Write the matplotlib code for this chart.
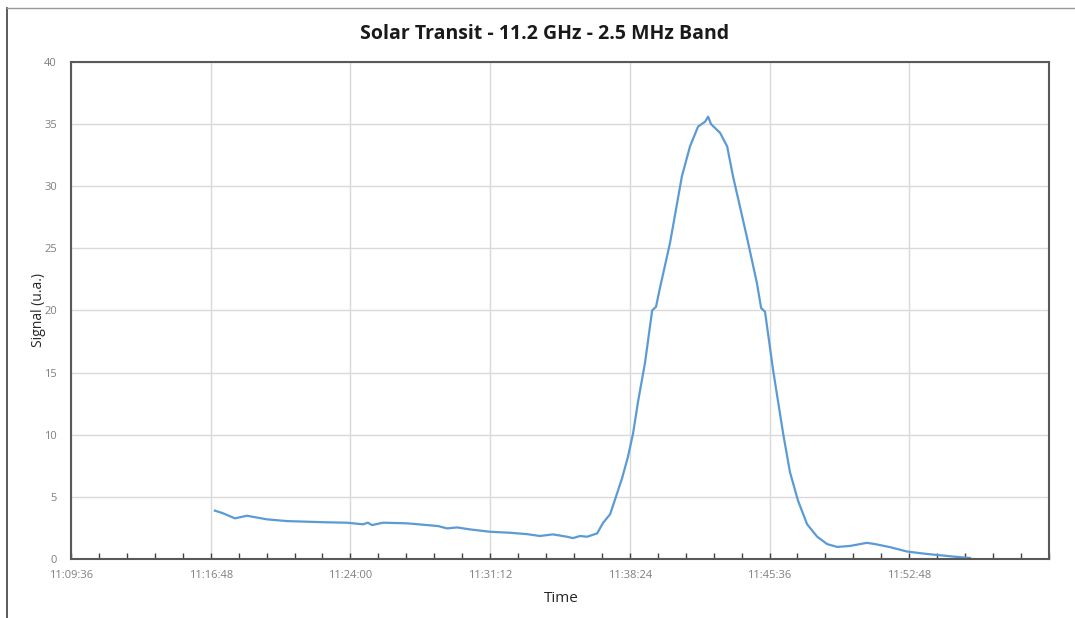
import matplotlib
matplotlib.use("Agg")
import matplotlib.pyplot as plt
import matplotlib.dates as mdates
from matplotlib.lines import Line2D
import pandas as pd

times = ["11:17:01", "11:17:26", "11:18:03", "11:18:40", "11:19:42", "11:20:44", "11:21:46",
         "11:22:48", "11:23:49", "11:24:39", "11:24:54", "11:25:07", "11:25:41", "11:26:55",
         "11:27:57", "11:28:31", "11:28:59", "11:29:30", "11:30:10", "11:31:12", "11:32:14",
         "11:33:06", "11:33:46", "11:34:26", "11:35:10", "11:35:28", "11:35:50", "11:36:12",
         "11:36:43", "11:37:01", "11:37:23", "11:37:41", "11:38:00", "11:38:18", "11:38:34",
         "11:38:49", "11:39:11", "11:39:33", "11:39:45", "11:39:57", "11:40:28", "11:41:05",
         "11:41:30", "11:41:55", "11:42:17", "11:42:26", "11:42:35", "11:42:47", "11:43:03",
         "11:43:25", "11:43:43", "11:44:05", "11:44:26", "11:44:57", "11:45:10", "11:45:22",
         "11:45:47", "11:46:18", "11:46:39", "11:47:04", "11:47:32", "11:48:03", "11:48:34",
         "11:49:05", "11:49:45", "11:50:16", "11:50:37", "11:51:02", "11:51:49", "11:52:41",
         "11:53:37", "11:54:23", "11:55:10", "11:55:56"]
signal = [3.89, 3.68, 3.27, 3.48, 3.19, 3.05, 3.00,
          2.95, 2.92, 2.79, 2.92, 2.73, 2.92, 2.87,
          2.73, 2.65, 2.46, 2.54, 2.38, 2.19, 2.11,
          2.00, 1.85, 1.98, 1.79, 1.68, 1.85, 1.79,
          2.06, 2.90, 3.60, 5.00, 6.50, 8.20, 10.1,
          12.6, 15.8, 20.0, 20.3, 21.8, 25.4, 30.8,
          33.2, 34.8, 35.2, 35.6, 35.0, 34.7, 34.3,
          33.2, 30.8, 28.3, 25.9, 22.2, 20.2, 19.9,
          15.2, 10.1, 7.0, 4.7, 2.8, 1.8, 1.2,
          0.97, 1.05, 1.2, 1.3, 1.2, 0.95, 0.6,
          0.42, 0.3, 0.18, 0.08]
x_start = "11:09:36"
x_end = "12:00:00"
x_last_label = "11:52:48"
y_ticks = [0, 5, 10, 15, 20, 25, 30, 35, 40]

day = "2020-01-01 "
t = pd.to_datetime([day + s for s in times])
t0 = pd.Timestamp(day + x_start)
t1 = pd.Timestamp(day + x_end)
tl = pd.Timestamp(day + x_last_label)

fig = plt.figure(figsize=(10.75, 6.18), dpi=100)
fig.patch.set_facecolor("white")
ax = fig.add_axes([0.066, 0.0955, 0.9098, 0.8042])

ax.plot(t, signal, color="#5b9bd5", lw=1.6)

ax.set_xlim(t0, t1)
ax.set_ylim(0, 40)
ax.set_yticks(y_ticks)
major = pd.date_range(t0, tl, freq="432s")
minor = pd.date_range(t0, t1, freq="86.4s")
ax.set_xticks(major)
ax.set_xticks(minor, minor=True)
ax.xaxis.set_major_formatter(mdates.DateFormatter("%H:%M:%S"))

ax.grid(True, which="major", color="#d9d9d9", lw=1)
ax.set_axisbelow(True)
for s in ax.spines.values():
    s.set_color("#595959")
    s.set_linewidth(1.5)

ax.tick_params(axis="x", which="both", direction="in", color="#404040", length=4, width=1,
               labelsize=8, labelcolor="#7f7f7f", pad=8)
ax.tick_params(axis="y", length=0, labelsize=8, labelcolor="#7f7f7f", pad=10)
for lab in ax.get_xticklabels() + ax.get_yticklabels():
    lab.set_family("Open Sans")

ax.set_xlabel("Time", fontsize=11, family="Open Sans", color="#262626")
ax.xaxis.set_label_coords(0.501, -0.065)
ax.set_ylabel("Signal (u.a.)", fontsize=10, family="Open Sans", color="#262626")
ax.yaxis.set_label_coords(-0.026, 0.5)

fig.text(0.507, 0.945, "Solar Transit - 11.2 GHz - 2.5 MHz Band", ha="center", va="center",
         fontsize=14, fontweight="bold", family="Open Sans", color="#1a1a1a")

fig.add_artist(Line2D([7 / 1075, 7 / 1075], [0, 1 - 8 / 618], transform=fig.transFigure,
                      color="#404040", lw=1.2))
fig.add_artist(Line2D([7 / 1075, 1], [1 - 8 / 618, 1 - 8 / 618], transform=fig.transFigure,
                      color="#9a9a9a", lw=1.0))

fig.savefig("out.png", dpi=100)
